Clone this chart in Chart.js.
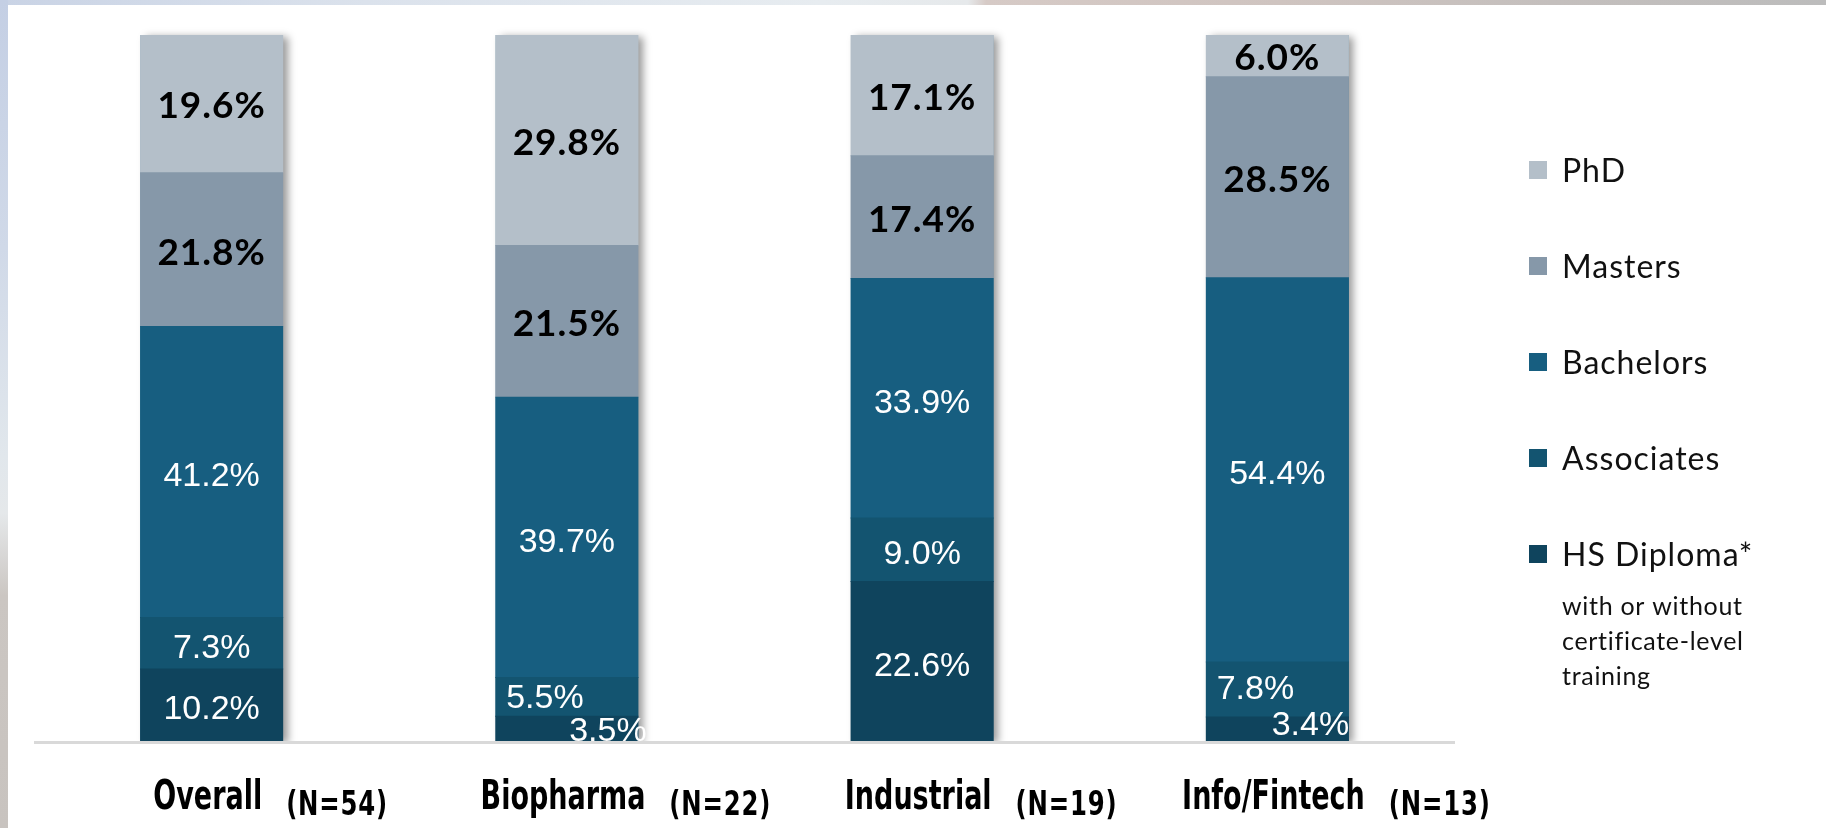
<!DOCTYPE html>
<html>
<head>
<meta charset="utf-8">
<script src="https://cdn.jsdelivr.net/npm/chart.js@4.4.0/dist/chart.umd.min.js"></script>
<style>
  html, body { margin: 0; padding: 0; }
  body { width: 1826px; height: 828px; position: relative; overflow: hidden; background: #fff; }
  #frameTop { position: absolute; left: 0; top: 0; width: 1826px; height: 5px;
    background: linear-gradient(to right, #c9d3e5 0%, #dbe2ec 20%, #e7ecf0 45%, #e6e9eb 53%, #d6cac6 54%, #cfc4c0 70%, #c4bfbd 85%, #bcbcbc 100%); }
  #frameLeft { position: absolute; left: 0; top: 0; width: 8px; height: 828px;
    background: linear-gradient(to bottom, #c4cfe4 0%, #d0d9e8 30%, #e1e7ec 55%, #e5e8ea 62%, #cbc6c2 72%, #c8c3bf 100%); }
  canvas { position: absolute; left: 0; top: 0; }
</style>
</head>
<body>
<div id="frameTop"></div>
<div id="frameLeft"></div>
<canvas id="eduChart" width="1826" height="828"></canvas>
<script>
// categories and values (percent of respondents)
const categories = ['Overall', 'Biopharma', 'Industrial', 'Info/Fintech'];
const sampleSizes = ['(N=54)', '(N=22)', '(N=19)', '(N=13)'];
const hsDiploma = [10.2, 3.5, 22.6, 3.4];
const associates = [7.3, 5.5, 9.0, 7.8];
const bachelors = [41.2, 39.7, 33.9, 54.4];
const masters = [21.8, 21.5, 17.4, 28.5];
const phd = [19.6, 29.8, 17.1, 6.0];
const legendNote = ['with or without', 'certificate-level', 'training'];

// small labels that sit off-centre in the original ("dataset,category": [dx, dy])
const labelNudge = { '0,1': [41, -2], '1,1': [-22, -3.5], '0,3': [33, -8], '1,3': [-22, -5] };

const datasets = [
    { label: 'HS Diploma*', data: hsDiploma, backgroundColor: '#0f445d', dark: true },
    { label: 'Associates', data: associates, backgroundColor: '#135470', dark: true },
    { label: 'Bachelors', data: bachelors, backgroundColor: '#175e80', dark: true },
    { label: 'Masters', data: masters, backgroundColor: '#8698a9', dark: false },
    { label: 'PhD', data: phd, backgroundColor: '#b4bfc9', dark: false }
];

// draw text squeezed horizontally (the original uses a condensed face)
function squeezedText(ctx, text, x, y, sx) {
    ctx.save();
    ctx.translate(x, y);
    ctx.scale(sx, 1);
    ctx.fillText(text, 0, 0);
    ctx.restore();
}

const barDecor = {
    id: 'barDecor',
    beforeDatasetsDraw(chart) {
        const { ctx, chartArea } = chart;
        const metas = chart.data.datasets.map((d, i) => chart.getDatasetMeta(i));
        ctx.save();
        ctx.beginPath();
        ctx.rect(0, 0, chart.width, chartArea.bottom);
        ctx.clip();
        ctx.shadowColor = 'rgba(0,0,0,0.4)';
        ctx.shadowBlur = 8;
        ctx.shadowOffsetX = 5;
        ctx.shadowOffsetY = 2;
        ctx.fillStyle = '#175e80';
        categories.forEach((c, j) => {
            const el = metas[0].data[j];
            const top = Math.max(chartArea.top, Math.min(...metas.map(m => m.data[j].y)));
            ctx.fillRect(el.x - el.width / 2, top, el.width, chartArea.bottom - top);
        });
        ctx.restore();
    },
    afterDatasetsDraw(chart) {
        const { ctx, chartArea } = chart;

        // axis line
        ctx.save();
        ctx.strokeStyle = '#d9d9d9';
        ctx.lineWidth = 3;
        ctx.beginPath();
        ctx.moveTo(chartArea.left, chartArea.bottom + 1.5);
        ctx.lineTo(chartArea.right, chartArea.bottom + 1.5);
        ctx.stroke();
        ctx.restore();

        // value labels
        ctx.save();
        ctx.beginPath();
        ctx.rect(0, 0, chart.width, chartArea.bottom);
        ctx.clip();
        ctx.textAlign = 'center';
        ctx.textBaseline = 'middle';
        chart.data.datasets.forEach((ds, i) => {
            const meta = chart.getDatasetMeta(i);
            ctx.font = ds.dark ? '34px "Liberation Sans", Arial, sans-serif' : 'bold 37px Lato, sans-serif';
            ctx.letterSpacing = ds.dark ? '0px' : '1px';
            ctx.fillStyle = ds.dark ? '#ffffff' : '#000000';
            const baseDy = ds.dark ? 5 : 3;
            meta.data.forEach((el, j) => {
                const nudge = labelNudge[i + ',' + j] || [0, 0];
                const y = (el.y + el.base) / 2;
                ctx.fillText(ds.data[j].toFixed(1) + '%', el.x + nudge[0], y + baseDy + nudge[1]);
            });
        });
        ctx.restore();

        // category labels
        const xScale = chart.scales.x;
        ctx.save();
        ctx.fillStyle = '#000000';
        ctx.textAlign = 'left';
        ctx.textBaseline = 'alphabetic';
        const mainFont = 'bold 40px "DejaVu Sans Condensed", "DejaVu Sans", sans-serif';
        const nFont = 'bold 33px "DejaVu Sans Condensed", "DejaVu Sans", sans-serif';
        const mainSx = 0.75, nSx = 0.82;
        categories.forEach((name, j) => {
            const px = xScale.getPixelForValue(j);
            ctx.font = mainFont;
            ctx.letterSpacing = '0px';
            const wM = ctx.measureText(name).width * mainSx;
            ctx.font = nFont;
            ctx.letterSpacing = '1px';
            const wN = ctx.measureText(sampleSizes[j]).width * nSx;
            const gap = 24;
            const start = px + 59 - (wM + gap + wN) / 2;
            ctx.font = mainFont;
            ctx.letterSpacing = '0px';
            squeezedText(ctx, name, start, 809, mainSx);
            ctx.font = nFont;
            ctx.letterSpacing = '1px';
            squeezedText(ctx, sampleSizes[j], start + wM + gap, 815, nSx);
        });
        ctx.restore();

        // legend, top to bottom = PhD .. HS Diploma
        ctx.save();
        ctx.textAlign = 'left';
        ctx.textBaseline = 'alphabetic';
        const order = chart.data.datasets.slice().reverse();
        const boxX = 1529, textX = 1562, firstBase = 182, step = 96;
        order.forEach((ds, k) => {
            const base = firstBase + k * step;
            ctx.fillStyle = ds.backgroundColor;
            ctx.fillRect(boxX, base - 21, 18, 18);
            ctx.fillStyle = '#111111';
            ctx.font = '32px Lato, sans-serif';
            ctx.letterSpacing = '1px';
            ctx.fillText(ds.label, textX, base);
        });
        ctx.font = '25px Lato, sans-serif';
        ctx.letterSpacing = '0.7px';
        legendNote.forEach((line, k) => {
            ctx.fillText(line, textX, 615 + k * 35);
        });
        ctx.restore();
    }
};

new Chart(document.getElementById('eduChart'), {
    type: 'bar',
    data: { labels: categories, datasets: datasets },
    options: {
        responsive: false,
        animation: false,
        devicePixelRatio: 1,
        layout: { padding: { left: 34, right: 371, top: 35, bottom: 87 } },
        datasets: { bar: { barPercentage: 0.4, categoryPercentage: 1, borderWidth: 0, inflateAmount: 0.5 } },
        scales: {
            x: { stacked: true, display: false },
            y: { stacked: true, display: false, min: 0, max: 100 }
        },
        plugins: { legend: { display: false }, tooltip: { enabled: false } }
    },
    plugins: [barDecor]
});
</script>
</body>
</html>
